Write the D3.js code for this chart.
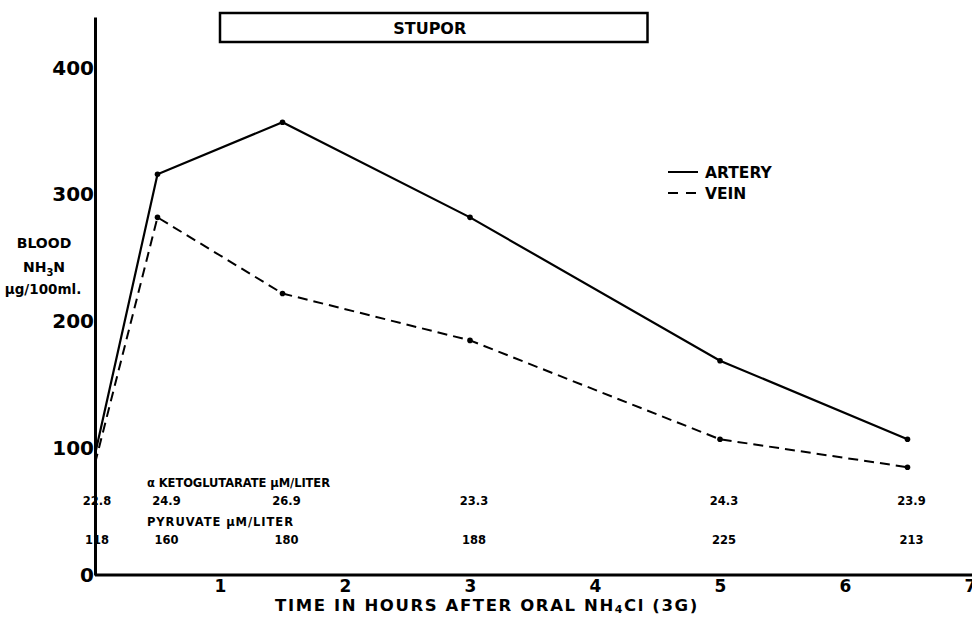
<!DOCTYPE html>
<html><head><meta charset="utf-8">
<script src="https://cdn.jsdelivr.net/npm/d3@7"></script>
<style>
body{margin:0;background:#fff;}
svg{display:block;}
text{font-family:"DejaVu Sans","Liberation Sans",sans-serif;font-weight:bold;fill:#000;}
</style></head><body>
<svg id="c" width="972" height="617"></svg>
<script>
const hours = [0, 0.5, 1.5, 3, 5, 6.5];
const artery = [95, 316, 357, 282, 169, 107];
const vein = [88, 282, 222, 185, 107, 85];
const ketoglutarate = ["22.8", "24.9", "26.9", "23.3", "24.3", "23.9"];
const pyruvate = ["118", "160", "180", "188", "225", "213"];
const yTicks = [0, 100, 200, 300, 400];
const xTicks = [1, 2, 3, 4, 5, 6, 7];
const stupor = [1, 4.42];

const svg = d3.select("#c");
const x = d3.scaleLinear().domain([0, 7]).range([95, 970]);
const y = d3.scaleLinear().domain([0, 440]).range([575, 17]);

// axes
const yAxis = d3.axisLeft(y).tickValues(yTicks).tickSize(0).tickPadding(1).tickFormat(d3.format("d"));
const gy = svg.append("g").attr("transform", `translate(${x(0)},0)`).call(yAxis);
gy.select(".domain").attr("stroke", "#000").attr("stroke-width", 3);
gy.selectAll("text").style("font-size", "20px").style("font-family", "DejaVu Sans").style("font-weight", "bold").attr("fill", "#000");

const xAxis = d3.axisBottom(x).tickValues(xTicks).tickSize(0).tickPadding(5).tickFormat(d3.format("d"));
const gx = svg.append("g").attr("transform", `translate(0,${y(0)})`).call(xAxis);
gx.select(".domain").attr("stroke", "#000").attr("stroke-width", 3).attr("d", `M${x(0)},0H972`);
gx.selectAll("text").style("font-size", "17px").style("font-family", "DejaVu Sans").style("font-weight", "bold").attr("fill", "#000");

// stupor box
svg.append("rect").attr("x", x(stupor[0])).attr("y", 13).attr("width", x(stupor[1]) - x(stupor[0])).attr("height", 29)
  .attr("fill", "none").attr("stroke", "#000").attr("stroke-width", 2.5);
svg.append("text").attr("x", (x(stupor[0]) + x(stupor[1])) / 2 - 4).attr("y", 34).attr("text-anchor", "middle")
  .style("font-size", "16px").text("STUPOR");

// lines
const line = d3.line().x((d, i) => x(hours[i])).y(d => y(d));
svg.append("path").datum(artery).attr("d", line).attr("fill", "none").attr("stroke", "#000").attr("stroke-width", 2.2);
svg.append("path").datum(vein).attr("d", line).attr("fill", "none").attr("stroke", "#000").attr("stroke-width", 2)
  .attr("stroke-dasharray", "10,6");
[artery, vein].forEach(s => {
  svg.selectAll(null).data(s.slice(1)).enter().append("circle")
    .attr("cx", (d, i) => x(hours[i + 1])).attr("cy", d => y(d)).attr("r", 2.8).attr("fill", "#000");
});

// legend
svg.append("line").attr("x1", 668).attr("x2", 698).attr("y1", 172).attr("y2", 172).attr("stroke", "#000").attr("stroke-width", 2);
svg.append("line").attr("x1", 668).attr("x2", 698).attr("y1", 193).attr("y2", 193).attr("stroke", "#000").attr("stroke-width", 2).attr("stroke-dasharray", "10,8");
svg.append("text").attr("x", 705).attr("y", 178).style("font-size", "15.5px").text("ARTERY");
svg.append("text").attr("x", 705).attr("y", 199).style("font-size", "15.5px").text("VEIN");

// y label
const yl = svg.append("g").style("font-size", "14px");
yl.append("text").attr("x", 44).attr("y", 248).attr("text-anchor", "middle").text("BLOOD");
const nh = yl.append("text").attr("x", 44).attr("y", 272).attr("text-anchor", "middle");
nh.append("tspan").text("NH");
nh.append("tspan").attr("dy", 4).style("font-size", "10px").text("3");
nh.append("tspan").attr("dy", -4).text("N");
yl.append("text").attr("x", 43).attr("y", 294).attr("text-anchor", "middle").style("font-size", "13.5px").text("μg/100ml.");

// annotation rows
const ann = svg.append("g").style("font-size", "11.5px");
ann.append("text").attr("x", 147).attr("y", 487).attr("textLength", 183).text("α KETOGLUTARATE  μM/LITER");
ann.selectAll(null).data(ketoglutarate).enter().append("text")
  .attr("x", (d, i) => x(hours[i]) + (i === 0 ? 2 : i === 1 ? 9 : 4)).attr("y", 505).attr("text-anchor", "middle")
  .text(d => d);
ann.append("text").attr("x", 147).attr("y", 526).attr("textLength", 146).text("PYRUVATE  μM/LITER");
ann.selectAll(null).data(pyruvate).enter().append("text")
  .attr("x", (d, i) => x(hours[i]) + (i === 0 ? 2 : i === 1 ? 9 : 4)).attr("y", 544).attr("text-anchor", "middle")
  .text(d => d);

// x title
const xt = svg.append("text").attr("x", 487).attr("y", 611).attr("text-anchor", "middle").style("font-size", "16.5px").style("letter-spacing", "1.6px");
xt.append("tspan").text("TIME IN HOURS AFTER ORAL NH");
xt.append("tspan").attr("dy", 2).style("font-size", "11px").text("4");
xt.append("tspan").attr("dy", -2).text("Cl (3G)");
</script>
</body></html>
